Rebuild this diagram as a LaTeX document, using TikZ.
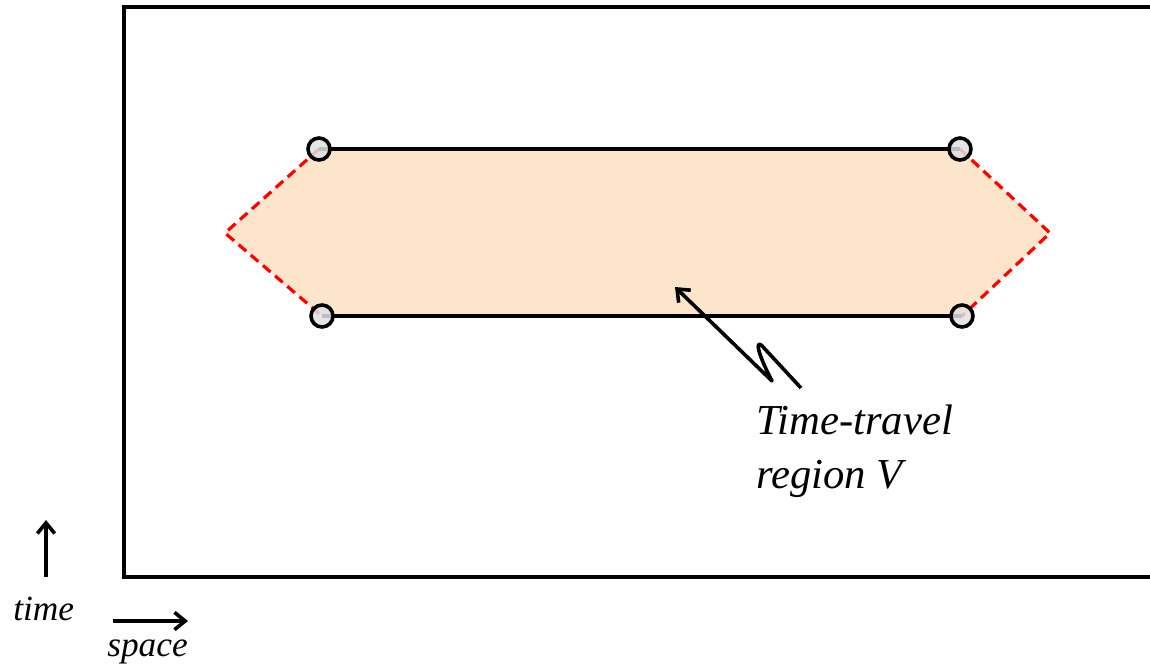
\documentclass[tikz,border=0pt]{standalone}
\usepackage{fontspec}
\setmainfont{Liberation Serif}
\usetikzlibrary{arrows.meta}
\definecolor{peach}{HTML}{FDE5CC}
\definecolor{dotfill}{HTML}{E0E0E0}
\begin{document}
\begin{tikzpicture}[x=0.75pt,y=-0.75pt,
  frameline/.style={line width=2.4pt},
  edgeline/.style={line width=2.8pt},
  nullline/.style={red, line width=2.4pt, dash pattern=on 7.5pt off 4.5pt},
  endpt/.style={circle, draw, line width=2.7pt, fill=dotfill, fill opacity=0.85, minimum size=16.5pt, inner sep=0pt},
  axisarrow/.style={line width=2.7pt, -{Straight Barb[length=8pt,width=13pt,line width=2.7pt]}},
  lbl/.style={font=\fontsize{32}{40}\selectfont\itshape, align=left, inner sep=0pt},
  axlbl/.style={font=\fontsize{26.5}{30}\selectfont\itshape, inner sep=0pt}
]
\useasboundingbox (0,0) rectangle (1150,669);
% frame
\draw[frameline] (1152,7) -- (124,7) -- (124,577) -- (1152,577);
% region
\coordinate (L) at (225,233);
\coordinate (R) at (1050,233);
\coordinate (TL) at (319,149);
\coordinate (TR) at (960,149);
\coordinate (BL) at (322,316);
\coordinate (BR) at (962,316);
\fill[peach] (L) -- (TL) -- (TR) -- (R) -- (BR) -- (BL) -- cycle;
\draw[nullline] (TL) -- (L) -- (BL);
\draw[nullline] (TR) -- (R) -- (BR);
\draw[edgeline] (TL) -- (TR);
\draw[edgeline] (BL) -- (BR);
\node[endpt] (tl) at (TL) {};
\node[endpt] (tr) at (TR) {};
\node[endpt] (bl) at (BL) {};
\node[endpt] (br) at (BR) {};
% label and lightning arrow
\node[lbl, anchor=north west] (lab) at (756,405) {Time-travel\\region V};
\coordinate (tip) at (675,287);
\coordinate (zb) at (772,381);
\coordinate (zt) at (764,348);
\coordinate (tail) at (801,388);
\draw[line width=2.7pt, line join=round, -{Straight Barb[length=8pt,width=13pt,line width=2.7pt]}]
  (tail) -- (zt) .. controls (758,340) and (752,342) .. (zb) -- (tip);
% axes
\coordinate (t0) at (46,577);
\coordinate (t1) at (46,520);
\draw[axisarrow] (t0) -- (t1);
\node[axlbl, anchor=base west] (time) at (13,620) {time};
\coordinate (s0) at (113,621);
\coordinate (s1) at (188,621);
\draw[axisarrow] (s0) -- (s1);
\node[axlbl, anchor=base west] (space) at (107,656) {space};
\end{tikzpicture}
\end{document}
